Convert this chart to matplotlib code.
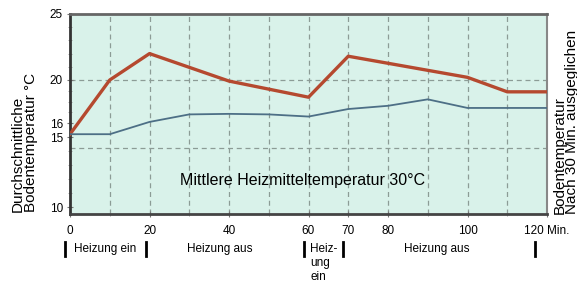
import numpy as np
import matplotlib
matplotlib.use("Agg")
import matplotlib.pyplot as plt
import matplotlib.transforms as mtransforms

plt.rcParams['font.family'] = ['Liberation Sans', 'DejaVu Sans']

# time in minutes
minutes_red = [0, 10, 20, 40, 60, 70, 100, 110, 120]
heizmittel_red = [15.2, 20.0, 22.0, 19.9, 18.4, 21.8, 20.2, 18.9, 18.9]

minutes_blue = [0, 10, 20, 30, 40, 50, 60, 70, 80, 90, 100, 110, 120]
boden_blue = [15.2, 15.2, 16.1, 16.8, 16.85, 16.8, 16.6, 17.3, 17.6, 18.2, 17.4, 17.4, 17.4]

y_ticks = [10, 15, 16, 20, 25]
x_ticks = [0, 20, 40, 60, 70, 80, 100, 120]
x_ticklabels = ['0', '20', '40', '60', '70', '80', '100', '120 Min.']

# phases: bar positions and labels
phase_bars = [-1.3, 19.1, 58.9, 68.7, 117]
phase_labels = ['Heizung ein', 'Heizung aus', 'Heiz-\nung\nein', 'Heizung aus']
phase_label_x = [8.8, 37.7, 60.4, 92.3]

# the original axis is not evenly spaced, so use a piecewise linear scale
scale_vals = [0, 10, 15, 16, 20, 25, 40]
scale_pos = [-140, 0, 70, 84, 127, 193, 391]

def fwd(v):
    return np.interp(v, scale_vals, scale_pos)

def inv(p):
    return np.interp(p, scale_pos, scale_vals)

fig = plt.figure(figsize=(5.77, 2.85), dpi=100)
ax = fig.add_axes([70 / 577, 1 - 214 / 285, 477 / 577, 200 / 285])
ax.set_facecolor('#d9f2ea')
ax.set_yscale('function', functions=(fwd, inv))
ax.set_xlim(0, 120)
ax.set_ylim(9.5, 25)

# grid
for gx in range(10, 120, 10):
    ax.axvline(gx, color='#8c9c96', linestyle=(0, (4, 3)), linewidth=0.9, zorder=1)
for gy in [20, 14.2]:
    ax.axhline(gy, color='#8c9c96', linestyle=(0, (4, 3)), linewidth=0.9, zorder=1)

ax.plot(minutes_red, heizmittel_red, color='#b5492f', linewidth=2.4, zorder=3)
ax.plot(minutes_blue, boden_blue, color='#4d6f86', linewidth=1.3, zorder=3)

ax.set_yticks(y_ticks)
ax.set_yticklabels([str(t) for t in y_ticks])
ax.set_yticks(np.arange(10, 25, 1), minor=True)
ax.set_xticks(x_ticks)
ax.set_xticklabels(x_ticklabels)
ax.set_xticks(range(0, 121, 10), minor=True)
ax.tick_params(axis='both', which='major', labelsize=8.5, direction='inout',
               length=4, color='#777777', pad=6)
ax.tick_params(axis='both', which='minor', direction='inout', length=3, color='#999999')
ax.tick_params(axis='y', pad=3)

ax.spines['left'].set_color('#333333')
ax.spines['left'].set_linewidth(2)
ax.spines['bottom'].set_color('#444444')
ax.spines['bottom'].set_linewidth(2)
ax.spines['top'].set_color('#666666')
ax.spines['top'].set_linewidth(2)
ax.spines['right'].set_color('#888888')
ax.spines['right'].set_linewidth(1.5)

ax.text(0.488, 0.17, 'Mittlere Heizmitteltemperatur 30°C', transform=ax.transAxes,
        ha='center', va='center', fontsize=11.5)

# phase markers under the axis
trans = mtransforms.blended_transform_factory(ax.transData, ax.transAxes)
for bx in phase_bars:
    ax.plot([bx, bx], [-0.14, -0.21], color='black', linewidth=2,
            transform=trans, clip_on=False)
for lx, lab in zip(phase_label_x, phase_labels):
    if '\n' in lab:
        ax.text(lx, -0.145, lab, transform=trans, ha='left', va='top',
                fontsize=8.5, linespacing=1.2)
    else:
        ax.text(lx, -0.175, lab, transform=trans, ha='center', va='center',
                fontsize=8.5)

fig.text(24.5 / 577, 1 - 212 / 285, 'Durchschnittliche\nBodentemperatur °C',
         rotation=90, ha='center', va='bottom', multialignment='left',
         fontsize=11, linespacing=1.0)
fig.text(566 / 577, 1 - 214 / 285, 'Bodentemperatur\nNach 30 Min. ausgeglichen',
         rotation=90, ha='center', va='bottom', multialignment='left',
         fontsize=11, linespacing=0.9)

fig.savefig('out.png', dpi=100)
